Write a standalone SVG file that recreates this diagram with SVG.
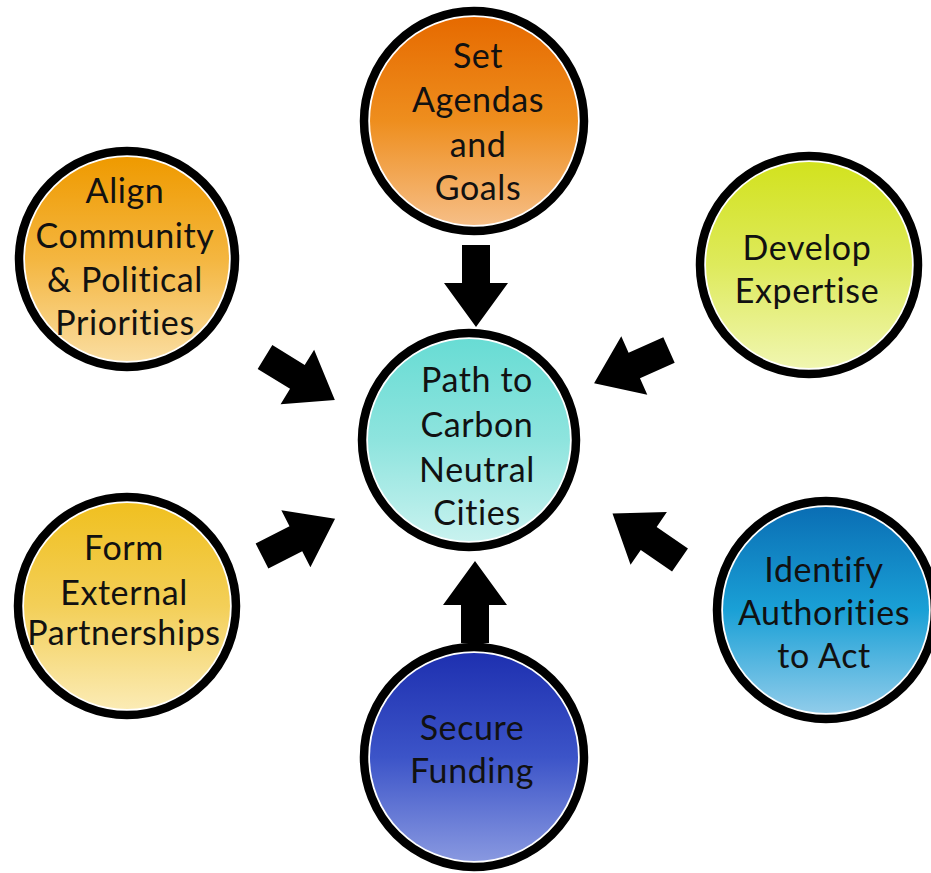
<svg xmlns="http://www.w3.org/2000/svg" width="931" height="873" viewBox="0 0 931 873">
<style>
.ring{fill:#fff;stroke:#000;stroke-width:8.5}
.lbl{font-family:Lato,"Open Sans","Liberation Sans",sans-serif;font-size:34px;letter-spacing:0.6px;fill:#111;text-anchor:middle;font-variant-ligatures:none;font-feature-settings:"liga" 0}
.arr{fill:#000}
</style>
<defs>
<linearGradient id="gTop" x1="0" y1="0" x2="0" y2="1"><stop offset="0" stop-color="#E66A00"/><stop offset="0.5" stop-color="#EE8E1E"/><stop offset="1" stop-color="#F6BE86"/></linearGradient>
<linearGradient id="gAlign" x1="0" y1="0" x2="0" y2="1"><stop offset="0" stop-color="#EF9A00"/><stop offset="0.5" stop-color="#F4B640"/><stop offset="1" stop-color="#FADDA0"/></linearGradient>
<linearGradient id="gDev" x1="0" y1="0" x2="0" y2="1"><stop offset="0" stop-color="#D2E21E"/><stop offset="0.5" stop-color="#DEEA5C"/><stop offset="1" stop-color="#F0F6B0"/></linearGradient>
<linearGradient id="gCenter" x1="0" y1="0" x2="0" y2="1"><stop offset="0" stop-color="#68DCD4"/><stop offset="0.5" stop-color="#8EE4DE"/><stop offset="1" stop-color="#C8F2EF"/></linearGradient>
<linearGradient id="gForm" x1="0" y1="0" x2="0" y2="1"><stop offset="0" stop-color="#F0C020"/><stop offset="0.5" stop-color="#F3CF58"/><stop offset="1" stop-color="#FBEBB4"/></linearGradient>
<linearGradient id="gIdent" x1="0" y1="0" x2="0" y2="1"><stop offset="0" stop-color="#0A6EB4"/><stop offset="0.5" stop-color="#1AA0D6"/><stop offset="1" stop-color="#90CCEA"/></linearGradient>
<linearGradient id="gSecure" x1="0" y1="0" x2="0" y2="1"><stop offset="0" stop-color="#1E30B0"/><stop offset="0.5" stop-color="#3C54C8"/><stop offset="1" stop-color="#8898E0"/></linearGradient>
<path id="arrow" d="M0,-14 L38,-14 L38,-32 L82,0 L38,32 L38,14 L0,14 Z"/>
</defs>

<g id="connectors" class="arr">
<use href="#arrow" transform="translate(476,245) rotate(90)"/>
<use href="#arrow" transform="translate(265,357) rotate(31.6)"/>
<use href="#arrow" transform="translate(669,350) rotate(156)"/>
<use href="#arrow" transform="translate(262,556) rotate(-27)"/>
<use href="#arrow" transform="translate(680,560) rotate(214.6)"/>
<use href="#arrow" transform="translate(475,643) rotate(-90)"/>
</g>

<g id="node-center">
<circle class="ring" cx="469" cy="440" r="107"/>
<circle cx="469" cy="440" r="101" fill="url(#gCenter)"/>
<text class="lbl" x="477" y="392">Path to</text>
<text class="lbl" x="477" y="437">Carbon</text>
<text class="lbl" x="477" y="482">Neutral</text>
<text class="lbl" x="477" y="525">Cities</text>
</g>

<g id="node-set-agendas">
<circle class="ring" cx="474" cy="121" r="110"/>
<circle cx="474" cy="121" r="104" fill="url(#gTop)"/>
<text class="lbl" x="478" y="68">Set</text>
<text class="lbl" x="478" y="112">Agendas</text>
<text class="lbl" x="478" y="157">and</text>
<text class="lbl" x="478" y="200">Goals</text>
</g>

<g id="node-align">
<circle class="ring" cx="127" cy="259" r="108"/>
<circle cx="127" cy="259" r="102" fill="url(#gAlign)"/>
<text class="lbl" x="125" y="203">Align</text>
<text class="lbl" x="125" y="248">Community</text>
<text class="lbl" x="125" y="292">&amp; Political</text>
<text class="lbl" x="125" y="335">Priorities</text>
</g>

<g id="node-develop">
<circle class="ring" cx="809" cy="265" r="109"/>
<circle cx="809" cy="265" r="103" fill="url(#gDev)"/>
<text class="lbl" x="807" y="260">Develop</text>
<text class="lbl" x="807" y="303">Expertise</text>
</g>

<g id="node-form">
<circle class="ring" cx="127" cy="606" r="109"/>
<circle cx="127" cy="606" r="103" fill="url(#gForm)"/>
<text class="lbl" x="124" y="560">Form</text>
<text class="lbl" x="124" y="605">External</text>
<text class="lbl" x="124" y="645">Partnerships</text>
</g>

<g id="node-identify">
<circle class="ring" cx="826" cy="610" r="109"/>
<circle cx="826" cy="610" r="103" fill="url(#gIdent)"/>
<text class="lbl" x="824" y="582">Identify</text>
<text class="lbl" x="824" y="625">Authorities</text>
<text class="lbl" x="824" y="668">to Act</text>
</g>

<g id="node-secure">
<circle class="ring" cx="474" cy="757" r="110"/>
<circle cx="474" cy="757" r="104" fill="url(#gSecure)"/>
<text class="lbl" x="472" y="740">Secure</text>
<text class="lbl" x="472" y="783">Funding</text>
</g>
</svg>
